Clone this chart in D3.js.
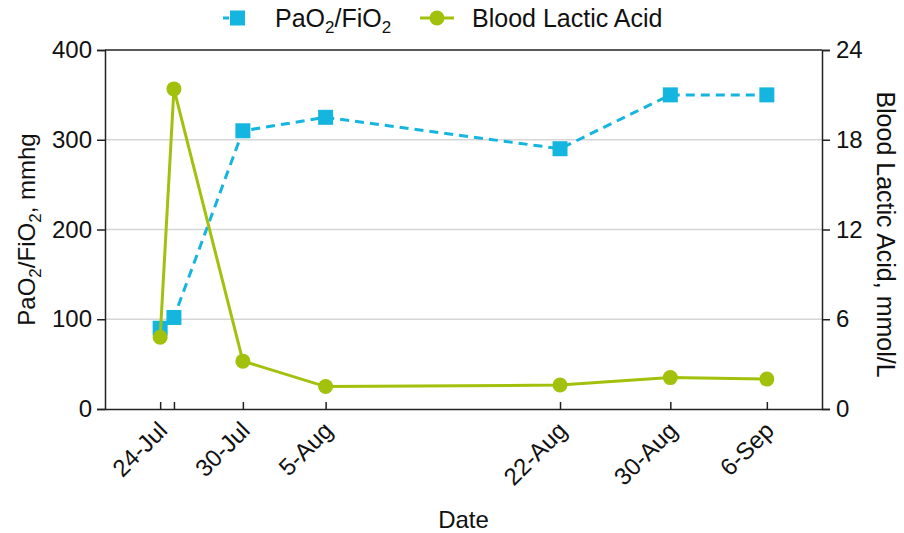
<!DOCTYPE html>
<html>
<head>
<meta charset="utf-8">
<script src="https://cdn.jsdelivr.net/npm/d3@7"></script>
<style>
  body { margin: 0; background: #fff; }
  text { font-family: "Liberation Sans", Arial, sans-serif; }
</style>
</head>
<body>
<script>
const canvWidth = 904, canvHeight = 533;
const margin = {top: 50, right: 82, bottom: 124, left: 105};
const width = canvWidth - margin.left - margin.right;
const height = canvHeight - margin.top - margin.bottom;

const parseDate = d3.timeParse("%Y-%m-%d");

// data
const dates = ["2020-07-24", "2020-07-25", "2020-07-30", "2020-08-05", "2020-08-22", "2020-08-30", "2020-09-06"];
const tickLabels = ["24-Jul", "", "30-Jul", "5-Aug", "22-Aug", "30-Aug", "6-Sep"];
const pao2 = [90, 102, 310, 325, 290, 350, 350];
const lactic = [4.8, 21.4, 3.2, 1.5, 1.6, 2.1, 2.0];
const leftTicks = [0, 100, 200, 300, 400];
const rightTicks = [0, 6, 12, 18, 24];

const blue = "#14b5de", green = "#a2c10c";

const svg = d3.select("body").append("svg")
    .attr("width", canvWidth)
    .attr("height", canvHeight);

const chart = svg.append("g")
    .attr("transform", `translate(${margin.left},${margin.top})`);

const xScale = d3.scaleTime()
    .domain([parseDate("2020-07-20"), parseDate("2020-09-10")])
    .range([0, width]);
const yLeft = d3.scaleLinear().domain([0, 400]).range([height, 0]);
const yRight = d3.scaleLinear().domain([0, 24]).range([height, 0]);

// grid lines
chart.append("g")
    .selectAll("line")
    .data([100, 200, 300])
    .enter().append("line")
    .attr("x1", 0)
    .attr("x2", width)
    .attr("y1", d => yLeft(d))
    .attr("y2", d => yLeft(d))
    .attr("stroke", "#d6d6d6")
    .attr("stroke-width", 1.5);

// top frame line
chart.append("line")
    .attr("x1", 0).attr("x2", width)
    .attr("y1", 0).attr("y2", 0)
    .attr("stroke", "#222")
    .attr("stroke-width", 1.5);

const styleAxis = g => {
    g.select(".domain").attr("stroke", "#222").attr("stroke-width", 1.5);
    g.selectAll(".tick line").attr("stroke", "#222").attr("stroke-width", 1.5);
    g.selectAll("text").attr("font-size", "24px").attr("fill", "#111")
        .attr("font-family", "'Liberation Sans', Arial, sans-serif");
};

chart.append("g")
    .call(d3.axisLeft(yLeft).tickValues(leftTicks).tickSizeOuter(0).tickSize(8).tickPadding(5))
    .call(styleAxis);

chart.append("g")
    .attr("transform", `translate(${width},0)`)
    .call(d3.axisRight(yRight).tickValues(rightTicks).tickSizeOuter(0).tickSize(8).tickPadding(6))
    .call(styleAxis);

const xAxis = chart.append("g")
    .attr("transform", `translate(0,${height})`)
    .call(d3.axisBottom(xScale)
        .tickValues(dates.map(parseDate))
        .tickFormat((d, i) => tickLabels[i])
        .tickSizeInner(-7)
        .tickSizeOuter(0))
    .call(styleAxis);

xAxis.selectAll(".tick text")
    .attr("x", 0)
    .attr("y", 0)
    .attr("dy", 0)
    .attr("text-anchor", "end")
    .attr("transform", "translate(8,23) rotate(-45)");

// PaO2/FiO2 series
const pts = dates.map((d, i) => ({date: parseDate(d), pao2: pao2[i], lactic: lactic[i]}));

chart.append("path")
    .datum(pts)
    .attr("fill", "none")
    .attr("stroke", blue)
    .attr("stroke-width", 3)
    .attr("stroke-dasharray", "9,6")
    .attr("d", d3.line().x(d => xScale(d.date)).y(d => yLeft(d.pao2)));

chart.append("g")
    .selectAll("rect")
    .data(pts)
    .enter().append("rect")
    .attr("x", d => xScale(d.date) - 7.5)
    .attr("y", d => yLeft(d.pao2) - 7.5)
    .attr("width", 15)
    .attr("height", 15)
    .attr("fill", blue);

// Blood lactic acid series
chart.append("path")
    .datum(pts)
    .attr("fill", "none")
    .attr("stroke", green)
    .attr("stroke-width", 3)
    .attr("d", d3.line().x(d => xScale(d.date)).y(d => yRight(d.lactic)));

chart.append("g")
    .selectAll("circle")
    .data(pts)
    .enter().append("circle")
    .attr("cx", d => xScale(d.date))
    .attr("cy", d => yRight(d.lactic))
    .attr("r", 7.5)
    .attr("fill", green);

// axis titles
chart.append("text")
    .attr("x", width / 2)
    .attr("y", height + 119)
    .attr("font-size", "24px")
    .attr("fill", "#111")
    .style("text-anchor", "middle")
    .text("Date");

const leftTitle = chart.append("text")
    .attr("transform", `translate(${35 - margin.left},${height / 2}) rotate(-90)`)
    .attr("font-size", "24px")
    .attr("fill", "#111")
    .style("text-anchor", "middle");
leftTitle.append("tspan").text("PaO");
leftTitle.append("tspan").attr("font-size", "17px").attr("dy", 6).text("2");
leftTitle.append("tspan").attr("dy", -6).text("/FiO");
leftTitle.append("tspan").attr("font-size", "17px").attr("dy", 6).text("2");
leftTitle.append("tspan").attr("dy", -6).text(", mmhg");

chart.append("text")
    .attr("transform", `translate(${width + 55},${height / 2 + 5}) rotate(90)`)
    .attr("font-size", "25px")
    .attr("fill", "#111")
    .style("text-anchor", "middle")
    .text("Blood Lactic Acid, mmol/L");

// legend
const legend = svg.append("g").attr("id", "legend");

legend.append("line")
    .attr("x1", 223).attr("x2", 253)
    .attr("y1", 18).attr("y2", 18)
    .attr("stroke", blue)
    .attr("stroke-width", 3)
    .attr("stroke-dasharray", "6,10");
legend.append("rect")
    .attr("x", 230).attr("y", 10.5)
    .attr("width", 15).attr("height", 15)
    .attr("fill", blue);
const t1 = legend.append("text")
    .attr("x", 275).attr("y", 27)
    .attr("font-size", "25px")
    .attr("fill", "#111");
t1.append("tspan").text("PaO");
t1.append("tspan").attr("font-size", "17px").attr("dy", 6).text("2");
t1.append("tspan").attr("dy", -6).text("/FiO");
t1.append("tspan").attr("font-size", "17px").attr("dy", 6).text("2");

legend.append("line")
    .attr("x1", 420).attr("x2", 454)
    .attr("y1", 18).attr("y2", 18)
    .attr("stroke", green)
    .attr("stroke-width", 3);
legend.append("circle")
    .attr("cx", 437).attr("cy", 18)
    .attr("r", 7.5)
    .attr("fill", green);
legend.append("text")
    .attr("x", 472).attr("y", 27)
    .attr("font-size", "25px")
    .attr("fill", "#111")
    .text("Blood Lactic Acid");
</script>
</body>
</html>
